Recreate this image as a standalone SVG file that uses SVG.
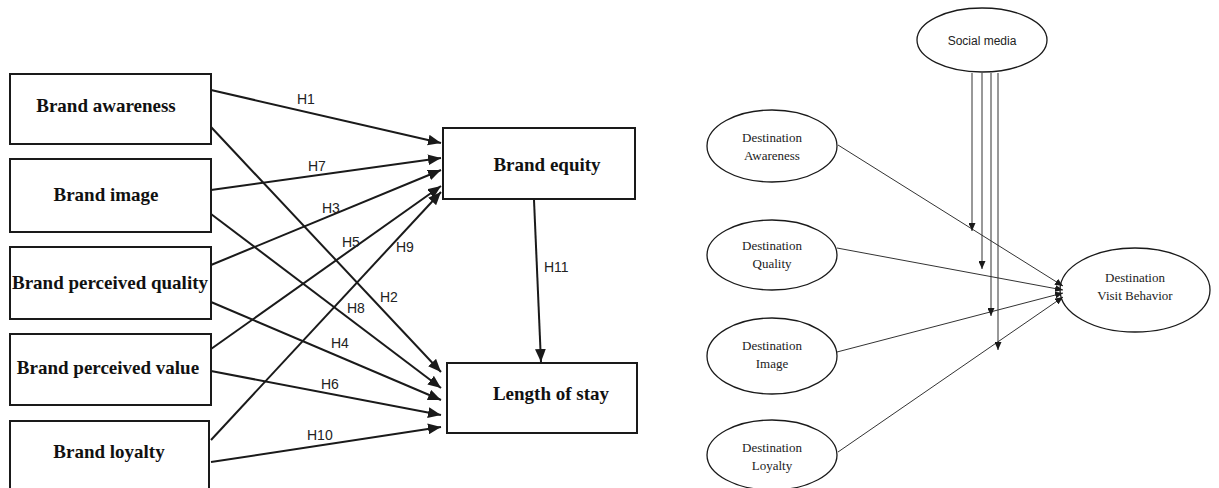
<svg xmlns="http://www.w3.org/2000/svg" width="1219" height="488" viewBox="0 0 1219 488">
  <style>
    .box { fill: #fff; stroke: #1a1a1a; stroke-width: 2; }
    .btxt { font-family: "Liberation Serif", "Times New Roman", serif; font-weight: bold; font-size: 19px; fill: #111; text-anchor: middle; }
    .hl { font-family: "Liberation Sans", Arial, sans-serif; font-size: 14px; fill: #222; }
    .arr { stroke: #1a1a1a; stroke-width: 2; fill: none; marker-end: url(#big); }
    .ell { fill: #fff; stroke: #1a1a1a; stroke-width: 1.3; }
    .etxt { font-family: "Liberation Serif", "Times New Roman", serif; font-size: 13px; fill: #222; text-anchor: middle; }
    .stxt { font-family: "Liberation Sans", Arial, sans-serif; font-size: 12px; fill: #222; text-anchor: middle; }
    .thin { stroke: #333; stroke-width: 1; fill: none; marker-end: url(#small); }
  </style>
  <defs>
    <marker id="big" viewBox="0 0 12 10" refX="12" refY="5" markerWidth="13" markerHeight="11" markerUnits="userSpaceOnUse" orient="auto">
      <path d="M0,0 L12,5 L0,10 Z" fill="#1a1a1a"/>
    </marker>
    <marker id="small" viewBox="0 0 8 7" refX="8" refY="3.5" markerWidth="8" markerHeight="7" markerUnits="userSpaceOnUse" orient="auto">
      <path d="M0,0 L8,3.5 L0,7 Z" fill="#1a1a1a"/>
    </marker>
  </defs>
  <rect width="1219" height="488" fill="#fff"/>

  <!-- Left model: brand constructs -->
  <g id="brand-awareness">
    <rect class="box" x="10" y="74" width="201" height="70"/>
    <text class="btxt" x="106" y="112">Brand awareness</text>
  </g>
  <g id="brand-image">
    <rect class="box" x="10" y="159" width="201" height="73"/>
    <text class="btxt" x="106" y="201">Brand image</text>
  </g>
  <g id="brand-perceived-quality">
    <rect class="box" x="10" y="247" width="201" height="72"/>
    <text class="btxt" x="110" y="289">Brand perceived quality</text>
  </g>
  <g id="brand-perceived-value">
    <rect class="box" x="10" y="334" width="201" height="71"/>
    <text class="btxt" x="108" y="374">Brand perceived value</text>
  </g>
  <g id="brand-loyalty">
    <rect class="box" x="10" y="421" width="199" height="80"/>
    <text class="btxt" x="109" y="458">Brand loyalty</text>
  </g>
  <g id="brand-equity">
    <rect class="box" x="443" y="128" width="192" height="71"/>
    <text class="btxt" x="547" y="171">Brand equity</text>
  </g>
  <g id="length-of-stay">
    <rect class="box" x="447" y="363" width="190" height="70"/>
    <text class="btxt" x="551" y="400">Length of stay</text>
  </g>

  <g id="brand-connectors">
    <line class="arr" x1="211" y1="90" x2="441" y2="143"/>
    <line class="arr" x1="211" y1="127" x2="441" y2="372"/>
    <line class="arr" x1="211" y1="190" x2="441" y2="158"/>
    <line class="arr" x1="211" y1="214" x2="441" y2="388"/>
    <line class="arr" x1="211" y1="265" x2="441" y2="170"/>
    <line class="arr" x1="211" y1="302" x2="441" y2="400"/>
    <line class="arr" x1="211" y1="349" x2="441" y2="186"/>
    <line class="arr" x1="211" y1="371" x2="441" y2="415"/>
    <line class="arr" x1="211" y1="440" x2="441" y2="192"/>
    <line class="arr" x1="211" y1="462" x2="441" y2="427"/>
    <line class="arr" x1="534" y1="200" x2="541" y2="362"/>
    <text class="hl" x="297" y="104">H1</text>
    <text class="hl" x="308" y="171">H7</text>
    <text class="hl" x="322" y="213">H3</text>
    <text class="hl" x="342" y="247">H5</text>
    <text class="hl" x="396" y="252">H9</text>
    <text class="hl" x="380" y="302">H2</text>
    <text class="hl" x="347" y="313">H8</text>
    <text class="hl" x="331" y="348">H4</text>
    <text class="hl" x="321" y="389">H6</text>
    <text class="hl" x="307" y="440">H10</text>
    <text class="hl" x="544" y="272">H11</text>
  </g>

  <!-- Right model: destination constructs -->
  <g id="social-media">
    <ellipse class="ell" cx="982" cy="40" rx="65" ry="32"/>
    <text class="stxt" x="982" y="45">Social media</text>
  </g>
  <g id="destination-awareness">
    <ellipse class="ell" cx="772" cy="146" rx="65" ry="36"/>
    <text class="etxt" x="772" y="142">Destination</text>
    <text class="etxt" x="772" y="160">Awareness</text>
  </g>
  <g id="destination-quality">
    <ellipse class="ell" cx="772" cy="255" rx="65" ry="35"/>
    <text class="etxt" x="772" y="250">Destination</text>
    <text class="etxt" x="772" y="268">Quality</text>
  </g>
  <g id="destination-image">
    <ellipse class="ell" cx="772" cy="356" rx="65" ry="38"/>
    <text class="etxt" x="772" y="350">Destination</text>
    <text class="etxt" x="772" y="368">Image</text>
  </g>
  <g id="destination-loyalty">
    <ellipse class="ell" cx="772" cy="455" rx="65" ry="35"/>
    <text class="etxt" x="772" y="452">Destination</text>
    <text class="etxt" x="772" y="470">Loyalty</text>
  </g>
  <g id="destination-visit-behavior">
    <ellipse class="ell" cx="1135" cy="290" rx="75" ry="42"/>
    <text class="etxt" x="1135" y="282">Destination</text>
    <text class="etxt" x="1135" y="300">Visit Behavior</text>
  </g>

  <g id="destination-connectors">
    <line class="thin" x1="838" y1="145" x2="1063" y2="286"/>
    <line class="thin" x1="837" y1="248" x2="1063" y2="290"/>
    <line class="thin" x1="837" y1="352" x2="1063" y2="293"/>
    <line class="thin" x1="838" y1="452" x2="1063" y2="297"/>
    <line class="thin" x1="972" y1="73" x2="972" y2="231"/>
    <line class="thin" x1="982" y1="73" x2="982" y2="269"/>
    <line class="thin" x1="991" y1="73" x2="991" y2="316"/>
    <line class="thin" x1="998" y1="73" x2="998" y2="350"/>
  </g>
</svg>
